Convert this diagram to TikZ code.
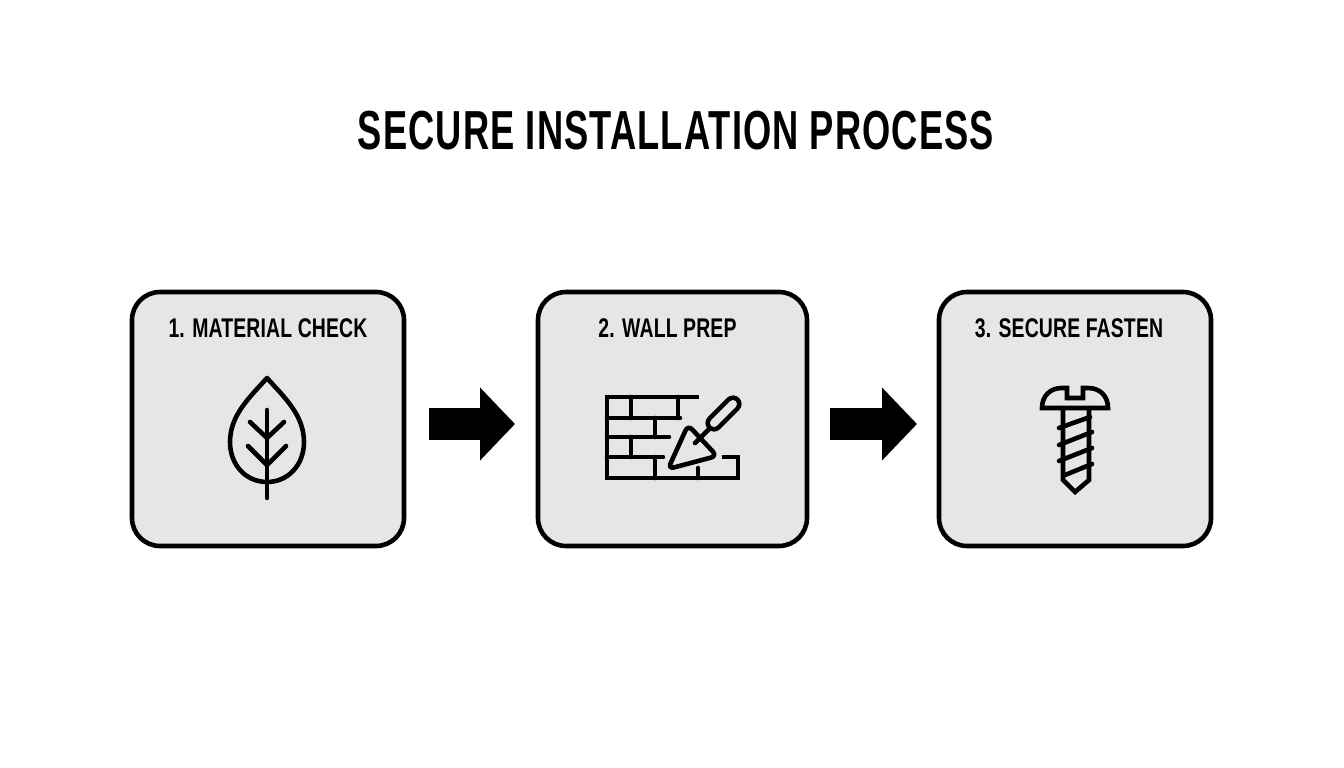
\documentclass[tikz,border=0pt]{standalone}
\usepackage{fontspec}
\newfontfamily\headfont[FakeStretch=0.66,LetterSpace=2]{Liberation Sans}
\newfontfamily\stepfont[FakeStretch=0.72,LetterSpace=0.5]{Liberation Sans}
\usetikzlibrary{positioning,arrows.meta}
\definecolor{boxgray}{HTML}{E6E6E6}
\begin{document}
\begin{tikzpicture}%
	[x=1pt,y=-1pt,
	stepbox/.style = {rectangle, draw=black, fill=boxgray, line width=4.6pt, rounded corners=28pt, minimum width=272pt, minimum height=254pt, outer sep=0pt},
	steplabel/.style = {inner sep=0pt, font=\stepfont\bfseries\fontsize{27}{27}\selectfont},
	flow/.style = {-{Triangle[length=35pt,width=71pt]}, line width=32pt, black},
	icon/.style = {draw=black, line width=4.6pt, line cap=round, line join=round}]
	\useasboundingbox (0,0) rectangle (1344,768);
	\node[inner sep=0pt, font=\headfont\bfseries\fontsize{55}{55}\selectfont] (title) at (676,131) {SECURE INSTALLATION PROCESS};
	
	\node[stepbox] (mat) at (268,419) {};
	\node[stepbox,minimum width=269pt] (wall) [right=134pt of mat] {};
	\node[stepbox] (fasten) [right=132pt of wall] {};
	
	\node[steplabel] (matT) [below=26pt of mat.north] {1. MATERIAL CHECK};
	\node[steplabel,xshift=-5pt] (wallT) [below=26pt of wall.north] {2. WALL PREP};
	\node[steplabel,xshift=-6pt] (fastenT) [below=26pt of fasten.north] {3. SECURE FASTEN};
	
	\draw[flow,shorten <=25pt,shorten >=23pt] ([yshift=-5pt]mat.east) -- ([yshift=-5pt]wall.west);
	\draw[flow,shorten <=23pt,shorten >=22pt] ([yshift=-5pt]wall.east) -- ([yshift=-5pt]fasten.west);
	
	% leaf
	\draw[icon] (267,378) .. controls (250,397) and (230,415) .. (230,442) .. controls (230,465) and (246,482) .. (267,482) .. controls (288,482) and (304,465) .. (304,442) .. controls (304,415) and (284,397) .. (267,378) -- cycle;
	\draw[icon] (267,410) -- (267,498);
	\draw[icon] (250,422) -- (267,438) -- (284,422);
	\draw[icon] (248,446) -- (267,465) -- (286,446);
	
	% bricks
	\draw[icon,line cap=butt,line join=miter] (699,397) -- (607,397) -- (607,478) -- (738,478) -- (738,457) -- (722,457);
	\draw[icon] (607,418) -- (680,418) (607,437) -- (669,437) (607,457) -- (663,457);
	\draw[icon] (631,397) -- (631,418) (678,397) -- (678,418) (655,418) -- (655,437);
	\draw[icon] (631,437) -- (631,457) (655,457) -- (655,478) (698,468) -- (698,478);
	
	% trowel
	\draw[icon,rounded corners=6pt] (688,425) -- (717,456) -- (668,469) -- cycle;
	\draw[icon] (695,443) -- (710,428);
	\draw[icon,double=boxgray,double distance=8pt] (714,423) -- (733,404);
	
	% screw
	\draw[icon,line join=miter] (1042,408) .. controls (1042,396) and (1050,388) .. (1062,388) -- (1067,388) -- (1067,398) -- (1083,398) -- (1083,388) -- (1088,388) .. controls (1100,388) and (1108,396) .. (1108,408) -- cycle;
	\draw[icon,line join=miter] (1063,408) -- (1063,480) -- (1075,492) -- (1089,480) -- (1089,408);
	\draw[icon] (1059,428) -- (1090,417) (1059,445) -- (1092,432) (1059,461) -- (1092,448) (1065,475) -- (1092,464);
\end{tikzpicture}
\end{document}
